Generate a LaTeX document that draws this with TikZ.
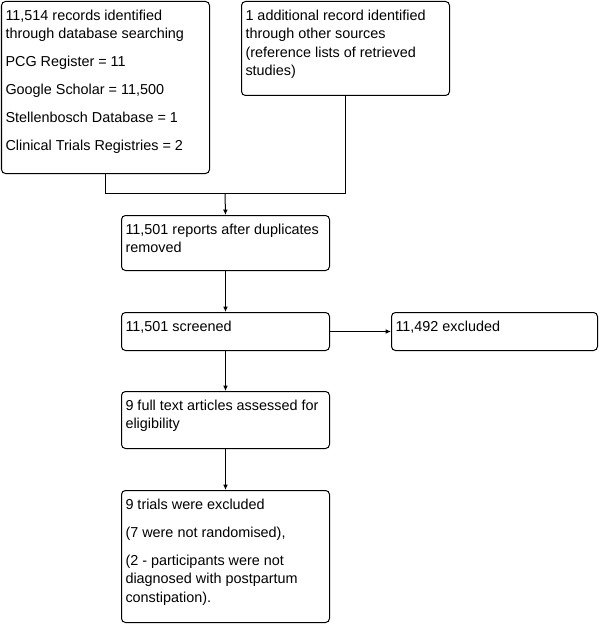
\documentclass[tikz,border=0pt]{standalone}
\usepackage{fontspec}
\setmainfont{Liberation Sans}
\usepackage{tikz}
\usetikzlibrary{positioning, arrows.meta}

% top-aligned text block: width, height, text
\newcommand{\boxbody}[3]{\parbox[t][#2][t]{#1}{\raggedright\setlength{\parskip}{7.1pt}\strut#3}}

\begin{document}
\begin{tikzpicture}[
    x=0.75pt, y=-0.75pt, line width=0.75pt,
    flowbox/.style={draw, rounded corners=3pt, anchor=north west, inner xsep=3pt, inner ysep=4.2pt, font=\fontsize{10.8}{13.9}\selectfont},
    flowarrow/.style={-{Latex[length=4pt, width=3.5pt]}}
]
\useasboundingbox (0,0) rectangle (601,624);

\node[flowbox] (search) at (1, 1) {\boxbody{150pt}{120.6pt}{11,514 records identified\\through database searching\par PCG Register = 11\par Google Scholar = 11,500\par Stellenbosch Database = 1\par Clinical Trials Registries = 2}};
\node[flowbox] (other) at (241, 1) {\boxbody{150pt}{62.1pt}{1 additional record identified\\through other sources\\(reference lists of retrieved\\studies)}};
\node[flowbox] (dedup) at (121, 215) {\boxbody{150pt}{32.85pt}{11,501 reports after duplicates\\removed}};
\node[flowbox] (screen) at (121, 312) {\boxbody{150pt}{20.1pt}{11,501 screened}};
\node[flowbox] (excl) at (391, 312) {\boxbody{148.5pt}{20.1pt}{11,492 excluded}};
\node[flowbox] (fulltext) at (121, 391) {\boxbody{150pt}{34.35pt}{9 full text articles assessed for\\eligibility}};
\node[flowbox] (trials) at (121, 490) {\boxbody{150pt}{90.6pt}{9 trials were excluded\par (7 were not randomised),\par (2 - participants were not\\diagnosed with postpartum\\constipation).}};

\coordinate (merge) at (225, 193.5);
\draw (search.south) |- (merge) -| (other.south);
\draw[flowarrow] (merge) -- (dedup.north);
\draw[flowarrow] (dedup) -- (screen);
\draw[flowarrow] (screen) -- (excl);
\draw[flowarrow] (screen) -- (fulltext);
\draw[flowarrow] (fulltext) -- (trials);
\end{tikzpicture}
\end{document}
